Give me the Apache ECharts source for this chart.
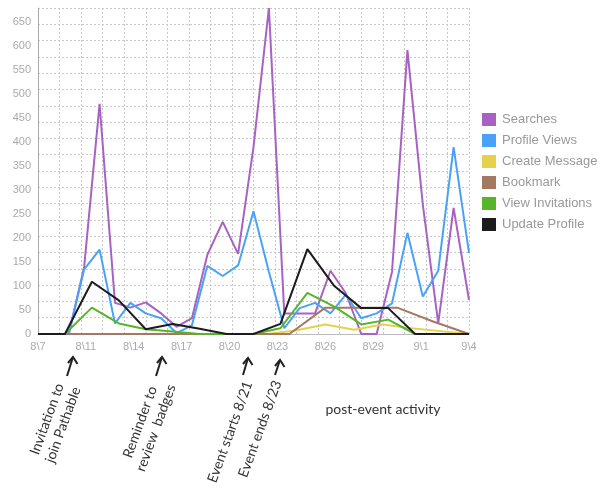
<!DOCTYPE html>
<html><head><meta charset="utf-8">
<script src="https://cdn.jsdelivr.net/npm/echarts@6/dist/echarts.min.js"></script>
<style>html,body{margin:0;padding:0;background:#fff}#c{width:600px;height:492px}</style>
</head><body><div id="c"></div>
<script>
// daily points (8/7 .. 9/4)
const days = ['8/7','8/8','8/9','8/10','8/11','8/12','8/13','8/14','8/15','8/16','8/17','8/18','8/19','8/20','8/21','8/22','8/23','8/24','8/25','8/26','8/27','8/28','8/29','8/30','8/31','9/1','9/2','9/3','9/4'];
// sample indices for series with fewer points (spread over full width)
const idx17 = ['1','2','3','4','5','6','7','8','9','10','11','12','13','14','15','16','17'];
const idx16 = ['1','2','3','4','5','6','7','8','9','10','11','12','13','14','15','16'];
const idx13 = ['1','2','3','4','5','6','7','8','9','10','11','12','13'];
const tickLabels = ['8\\7','8\\11','8\\14','8\\17','8\\20','8\\23','8\\26','8\\29','9\\1','9\\4'];

const searches      = [0,0,0,140,480,65,55,66,43,15,33,165,234,167,390,680,43,43,43,132,85,0,0,130,592,270,22,263,71];
const profileViews  = [0,0,0,135,176,22,65,43,33,2,18,142,121,143,256,130,12,54,65,43,82,33,43,64,211,78,132,390,169];
const createMessage = [0,0,0,0,0,0,0,0,0,8,20,9,20,12,6,0];
const bookmark      = [0,0,0,0,0,0,0,0,55,55,55,26,0];
const viewInvites   = [0,0,55,22,10,5,0,0,0,12,86,57,20,30,0,0,0];
const updateProfile = [0,0,109,70,10,21,11,0,0,21,177,100,54,54,0,0,0];

const names  = ['Searches','Profile Views','Create Message','Bookmark','View Invitations','Update Profile'];
const colors = ['#a862c4','#4aa2f6','#e4d24c','#a57961','#58b42a','#1c1c1c'];

const chart = echarts.init(document.getElementById('c'), null, {renderer:'canvas'});
const ang = 70 * Math.PI / 180;
const txt = {font:'14px Lato', fill:'#333'};
function label(x, y, text){
  return {type:'text', x:x, y:y, rotation:ang, z:10,
    style:Object.assign({text:text, align:'center', verticalAlign:'middle', textAlign:'center', textVerticalAlign:'middle', lineHeight:17}, txt)};
}
function arrow(tx, ty, bx, by){
  return [
    {type:'polyline', z:10, shape:{points:[[bx,by],[tx,ty]]}, style:{stroke:'#222', lineWidth:2, fill:null}},
    {type:'polyline', z:10, shape:{points:[[tx-5,ty+6],[tx,ty],[tx+4.5,ty+7]]}, style:{stroke:'#222', lineWidth:2, fill:null}}
  ];
}

const option = {
  animation:false,
  backgroundColor:'#fff',
  grid:{left:38, right:131, top:8, bottom:158, containLabel:false},
  legend:{
    orient:'vertical', left:482, top:113, padding:0, icon:'rect', itemWidth:14, itemHeight:13, itemGap:8,
    data:names, textStyle:{color:'#999', fontSize:13, fontFamily:'Liberation Sans', padding:[0,0,0,1]},
    selectedMode:false
  },
  xAxis:[
    {type:'category', data:days, boundaryGap:false, show:false},
    {type:'category', data:idx17, boundaryGap:false, show:false},
    {type:'category', data:idx16, boundaryGap:false, show:false},
    {type:'category', data:idx13, boundaryGap:false, show:false},
    {type:'value', min:0, max:20, interval:1, position:'bottom',
     axisLine:{show:true, onZero:false, lineStyle:{color:'#bbb', width:1}}, axisTick:{show:false}, axisLabel:{show:false},
     splitLine:{show:true, lineStyle:{type:[2,2], color:'#c8c8c8', width:1}}},
    {type:'value', min:0, max:tickLabels.length-1, interval:1, position:'bottom',
     axisLine:{show:false}, axisTick:{show:false}, splitLine:{show:false},
     axisLabel:{formatter:function(v){return tickLabels[v];}, color:'#aaa', fontSize:11, fontFamily:'Liberation Sans', margin:7}}
  ],
  yAxis:[
    {type:'value', min:0, max:680, interval:34, position:'left',
     axisLine:{show:true, onZero:false, lineStyle:{color:'#aaa', width:1}}, axisTick:{show:false}, axisLabel:{show:false},
     splitLine:{show:true, lineStyle:{type:[2,2], color:'#c8c8c8', width:1}}},
    {type:'value', min:0, max:680, interval:50, position:'left',
     axisLine:{show:false}, axisTick:{show:false}, splitLine:{show:false},
     axisLabel:{color:'#aaa', fontSize:11, fontFamily:'Liberation Sans', margin:7, showMaxLabel:false}}
  ],
  series:[
    {name:names[0], type:'line', xAxisIndex:0, yAxisIndex:0, data:searches},
    {name:names[1], type:'line', xAxisIndex:0, yAxisIndex:0, data:profileViews},
    {name:names[2], type:'line', xAxisIndex:2, yAxisIndex:0, data:createMessage},
    {name:names[3], type:'line', xAxisIndex:3, yAxisIndex:0, data:bookmark},
    {name:names[4], type:'line', xAxisIndex:1, yAxisIndex:0, data:viewInvites},
    {name:names[5], type:'line', xAxisIndex:1, yAxisIndex:0, data:updateProfile}
  ].map(function(s, i){
    return Object.assign(s, {symbol:'none', color:colors[i], lineStyle:{width:2, color:colors[i]}, emphasis:{disabled:true}});
  }),
  graphic:[
    label(55, 422, 'Invitation to\njoin Pathable'),
    label(148, 425, 'Reminder to\nreview  badges'),
    label(230, 432, 'Event starts 8/21'),
    label(260, 429, 'Event ends 8/23'),
    {type:'text', x:383, y:409, z:10, style:Object.assign({text:'post-event activity', align:'center', verticalAlign:'middle', textAlign:'center', textVerticalAlign:'middle'}, txt)}
  ].concat(arrow(73,357,67,376), arrow(162,357,156,376), arrow(248,358,243,375), arrow(280,360,275,375))
};
chart.setOption(option);
</script>
</body></html>
